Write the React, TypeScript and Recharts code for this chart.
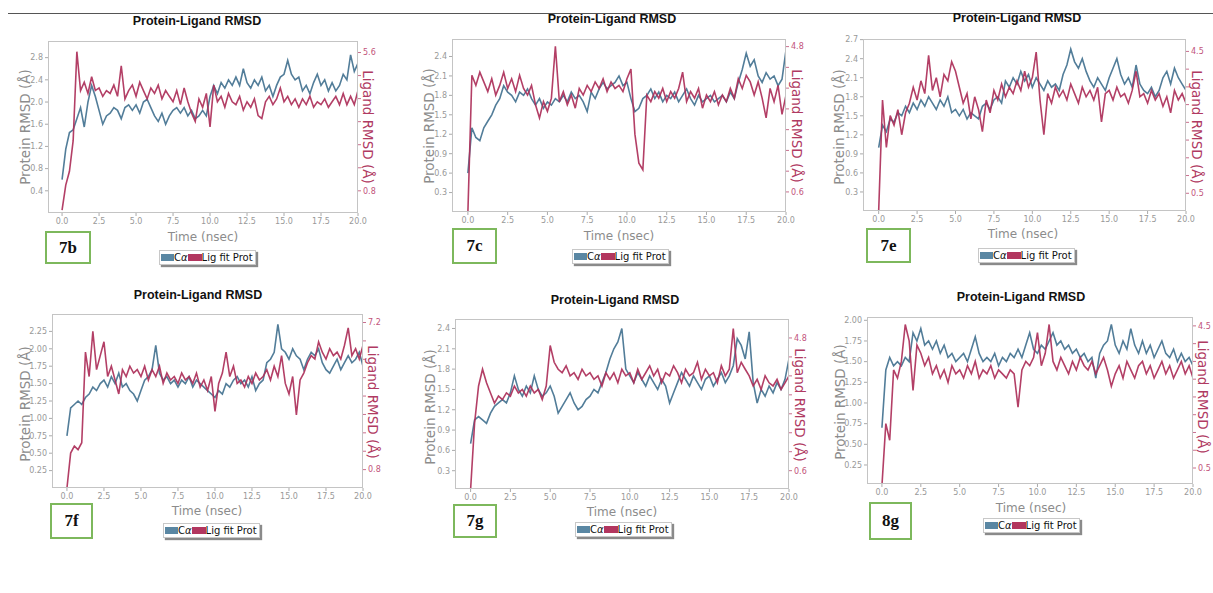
import React from 'react';
import { LineChart, Line, XAxis, YAxis } from 'recharts';

// sampling grid: one value every 0.25 ns
const TIME = Array.from({ length: 81 }, (_, i) => i * 0.25);
const X_TICKS = [0, 2.5, 5, 7.5, 10, 12.5, 15, 17.5, 20];

// Cα RMSD (left axis, Å) and ligand RMSD (right axis, Å) per complex
const CA_7B = [
  0.6, 1.15, 1.45, 1.5, 1.7, 1.9, 1.55, 2.0, 2.3, 2.1,
  1.85, 1.6, 1.75, 1.8, 1.9, 1.85, 1.7, 1.9, 1.95, 1.85,
  1.95, 1.8, 2.0, 2.05, 1.9, 1.75, 1.65, 1.8, 1.6, 1.75,
  1.85, 1.9, 1.8, 1.9, 1.75, 1.85, 1.7, 1.75, 1.85, 1.75,
  2.1, 2.3, 2.15, 2.35, 2.25, 2.4, 2.3, 2.45, 2.3, 2.6,
  2.35, 2.25, 2.4, 2.3, 2.45, 2.2, 2.3, 2.1, 2.3, 2.45,
  2.5, 2.75, 2.5, 2.4, 2.45, 2.2, 2.3, 2.15, 2.35, 2.5,
  2.3, 2.4, 2.2, 2.35, 2.2, 2.3, 2.5, 2.4, 2.85, 2.55,
  2.7,
];
const LIG_7B = [
  0.13, 1.0, 1.48, 2.54, 5.63, 4.28, 4.57, 4.18, 4.76, 4.28,
  4.37, 4.08, 4.28, 4.18, 4.47, 4.08, 5.14, 3.99, 4.28, 4.47,
  4.08, 4.57, 4.28, 3.99, 4.37, 4.18, 4.47, 3.99, 4.28, 4.08,
  3.89, 4.28, 3.79, 4.37, 3.89, 3.5, 3.21, 3.99, 3.7, 4.18,
  3.02, 4.47, 3.89, 4.08, 3.7, 4.18, 3.89, 3.79, 4.08, 3.6,
  3.89, 3.7, 3.99, 3.41, 3.31, 3.89, 4.08, 3.79, 3.99, 4.37,
  3.89, 4.08, 3.79, 3.99, 3.7, 3.99, 3.79, 4.08, 3.7, 3.89,
  3.79, 3.99, 3.7, 3.89, 4.08, 3.79, 4.18, 3.79, 4.08, 3.79,
  4.28,
];

const CA_7C = [
  0.6, 1.3, 1.15, 1.1, 1.3, 1.4, 1.5, 1.65, 1.75, 1.95,
  1.85, 1.8, 1.7, 1.85, 1.8, 1.9, 1.75, 1.65, 1.75, 1.6,
  1.7, 1.65, 1.75, 1.7, 1.8, 1.7, 1.85, 1.75, 1.8, 1.7,
  1.55, 1.85, 1.75, 1.9, 2.0, 1.9, 1.95, 2.0, 2.1, 1.95,
  2.0, 1.75, 1.55, 1.6, 1.75, 1.8, 1.9, 1.75, 1.85, 1.7,
  1.8, 1.75, 1.85, 1.7, 1.8, 1.9, 1.75, 1.65, 1.8, 1.7,
  1.75, 1.8, 1.7, 1.75, 1.8, 1.7, 1.85, 1.75, 2.0, 2.2,
  2.45, 2.25, 2.35, 2.1, 2.0, 2.15, 2.05, 2.1, 1.95, 2.05,
  2.5,
];
const LIG_7C = [
  0.02, 3.97, 3.68, 4.06, 3.78, 3.5, 3.87, 3.4, 3.68, 4.06,
  3.59, 3.87, 3.5, 3.97, 3.59, 3.4, 3.68, 3.12, 2.74, 3.21,
  2.93, 3.31, 4.81, 3.21, 3.5, 3.12, 3.4, 3.02, 3.59, 3.4,
  3.68, 3.5, 3.78, 3.59, 3.87, 3.5, 3.78, 3.59, 3.68, 3.5,
  3.87, 4.15, 2.27, 1.43, 1.24, 3.4, 3.21, 3.5, 3.31, 3.59,
  3.21, 3.5, 3.31, 3.59, 4.06, 3.21, 3.5, 3.31, 3.59, 3.02,
  3.4, 3.21, 3.5, 3.12, 3.4, 3.21, 3.59, 3.31, 3.87, 3.59,
  3.97, 3.78, 3.4, 3.78, 3.31, 2.74, 3.59, 3.21, 3.68, 2.84,
  3.4,
];

const CA_7E = [
  1.0, 1.35, 1.25, 1.45, 1.4, 1.55, 1.5, 1.65, 1.55, 1.7,
  1.6, 1.75, 1.65, 1.8, 1.7, 1.6, 1.75, 1.65, 1.8, 1.55,
  1.6, 1.5, 1.6, 1.45, 1.55, 1.5, 1.45, 1.65, 1.7, 1.6,
  1.75, 1.8, 1.7, 2.05, 1.95, 2.1, 2.0, 2.2, 2.05, 2.15,
  1.95, 2.1, 2.0, 1.9, 2.05, 1.95, 2.0, 1.9, 2.15, 2.3,
  2.55, 2.35, 2.25, 2.4, 2.2, 2.05, 1.95, 2.1, 2.0, 1.9,
  2.1, 2.25, 2.4, 2.15, 2.0, 2.1, 1.95, 2.3, 2.0, 1.9,
  1.85, 1.95, 1.8, 1.9, 2.1, 2.2, 2.0, 2.25, 2.1, 2.0,
  1.9,
];
const LIG_7E = [
  0.0, 3.13, 1.79, 2.69, 2.42, 2.86, 2.15, 2.77, 3.04, 3.49,
  3.13, 3.67, 3.31, 4.39, 3.4, 3.76, 3.22, 3.85, 3.67, 4.21,
  3.94, 3.49, 3.04, 3.31, 2.6, 3.22, 2.86, 2.24, 3.13, 2.77,
  3.4, 3.13, 3.58, 3.22, 3.49, 3.31, 3.67, 3.4, 3.94, 3.49,
  3.76, 4.48, 3.13, 2.15, 3.31, 3.04, 3.49, 3.22, 3.4, 3.13,
  3.58, 3.31, 3.04, 3.49, 3.22, 3.4, 3.13, 3.49, 2.51, 3.31,
  3.4, 3.13, 3.49, 3.22, 3.31, 3.04, 3.4, 3.94, 3.22, 3.31,
  3.04, 3.4, 3.13, 3.31, 2.95, 3.22, 2.77, 3.4, 3.13, 3.31,
  3.04,
];

const CA_7F = [
  0.75, 1.15, 1.2, 1.25, 1.2, 1.3, 1.35, 1.45, 1.4, 1.5,
  1.55, 1.45, 1.6, 1.5, 1.65, 1.45, 1.5, 1.4, 1.35, 1.25,
  1.4, 1.55, 1.6, 1.7, 2.05, 1.65, 1.55, 1.6, 1.5, 1.55,
  1.45, 1.55, 1.5, 1.6, 1.45, 1.55, 1.5, 1.45, 1.4, 1.35,
  1.3, 1.4, 1.35, 1.5, 1.45, 1.55, 1.6, 1.5, 1.55, 1.45,
  1.6, 1.4, 1.5, 1.55, 1.8, 1.85, 1.95, 2.35, 2.0, 1.95,
  1.85, 2.0, 1.9, 1.85, 1.7, 1.85, 1.95, 1.9, 2.0, 1.8,
  1.7, 1.65, 1.75, 1.85, 1.7, 1.8, 1.9, 1.8, 1.85, 1.95,
  1.75,
];
const LIG_7F = [
  0.0, 1.52, 1.82, 1.67, 1.97, 5.91, 4.85, 6.82, 5.15, 5.76,
  6.36, 4.85, 5.3, 4.7, 4.09, 5.15, 4.85, 5.3, 5.0, 5.15,
  4.85, 5.3, 4.7, 5.15, 4.85, 5.3, 4.55, 5.0, 4.7, 4.85,
  4.55, 5.0, 4.7, 4.85, 4.55, 5.0, 4.39, 4.7, 4.24, 4.85,
  3.33, 4.55, 5.0, 5.91, 4.85, 5.3, 4.55, 4.7, 4.39, 4.85,
  4.55, 5.0, 4.7, 4.85, 5.15, 4.7, 5.3, 4.85, 5.76, 4.55,
  4.09, 4.85, 3.18, 4.7, 5.0, 5.45, 5.76, 5.61, 6.36, 5.91,
  5.61, 6.06, 5.76, 5.91, 5.61, 6.21, 6.97, 5.76, 6.06, 5.61,
  6.21,
];

const CA_7G = [
  0.7, 1.05, 1.1, 1.05, 1.0, 1.15, 1.25, 1.3, 1.35, 1.3,
  1.45, 1.7, 1.5, 1.4, 1.55, 1.45, 1.7, 1.5, 1.4, 1.45,
  1.55, 1.4, 1.15, 1.25, 1.35, 1.45, 1.3, 1.2, 1.25, 1.35,
  1.4, 1.5, 1.45, 1.6, 1.75, 1.95, 2.1, 2.2, 2.4, 1.8,
  1.7, 1.6, 1.75, 1.65, 1.55, 1.7, 1.6, 1.5, 1.65, 1.55,
  1.3, 1.45, 1.6, 1.75, 1.65, 1.55, 1.7, 1.6, 1.5, 1.65,
  1.7, 1.55, 1.65, 1.75, 1.6, 1.7, 1.85, 2.25, 2.15, 1.95,
  2.35, 1.6, 1.3, 1.5, 1.4, 1.55, 1.45, 1.6, 1.5, 1.65,
  1.95,
];
const LIG_7G = [
  0.0, 2.1, 3.28, 3.81, 3.38, 3.06, 2.74, 2.96, 2.85, 3.06,
  2.96, 3.28, 3.06, 3.17, 2.96, 3.28, 3.06, 3.17, 2.85, 3.28,
  4.56, 4.03, 3.81, 3.7, 3.92, 3.6, 3.7, 3.49, 3.81, 3.6,
  3.7, 3.49, 3.6, 3.28, 3.7, 3.49, 3.7, 3.38, 3.81, 3.6,
  3.7, 3.38, 3.81, 3.49, 3.7, 3.92, 3.6, 3.81, 3.38, 3.7,
  3.6, 3.92, 3.7, 3.38, 3.81, 3.6, 3.7, 4.03, 3.49, 3.81,
  3.6, 3.7, 3.38, 3.92, 3.6, 3.81, 5.1, 3.7, 4.03, 3.81,
  3.6, 3.28, 3.49, 3.17, 3.6, 3.38, 3.28, 3.49, 3.17, 3.38,
  3.6,
];

const CA_8G = [
  0.7, 1.4, 1.55, 1.45, 1.5, 1.45, 1.55, 1.5, 1.85, 1.75,
  1.9, 1.7, 1.75, 1.65, 1.75, 1.6, 1.7, 1.55, 1.6, 1.5,
  1.55, 1.6, 1.5, 1.65, 1.8, 1.6, 1.5, 1.55, 1.5, 1.6,
  1.45, 1.55, 1.5, 1.6, 1.55, 1.65, 1.55, 1.7, 1.85, 1.65,
  1.6, 1.7, 1.65, 1.75, 1.85, 1.7, 1.75, 1.65, 1.7, 1.6,
  1.65, 1.55, 1.6, 1.5, 1.55, 1.3, 1.6, 1.7, 1.75, 1.95,
  1.7, 1.6, 1.75, 1.65, 1.9, 1.7, 1.6, 1.75, 1.6, 1.7,
  1.55, 1.65, 1.75, 1.6, 1.55, 1.65, 1.5, 1.6, 1.5, 1.55,
  1.45,
];
const LIG_8G = [
  0.0, 1.75, 1.28, 3.26, 3.03, 3.5, 4.54, 4.08, 2.68, 3.96,
  3.73, 3.38, 3.61, 3.15, 3.38, 3.03, 3.26, 2.91, 3.38, 3.15,
  3.26, 3.03, 3.38, 3.15, 3.5, 3.03, 3.26, 3.15, 3.38, 3.03,
  3.26, 3.15, 3.03, 3.26, 3.15, 2.21, 3.26, 3.5, 3.38, 3.61,
  4.31, 3.38, 3.73, 4.54, 3.5, 3.26, 3.61, 3.38, 3.15, 3.5,
  3.26, 3.61, 3.38, 3.26, 3.5, 3.15, 3.38, 3.61, 3.26, 2.8,
  3.15, 3.38, 3.03, 3.5, 3.26, 3.03, 3.38, 3.5, 3.15, 3.38,
  3.03, 3.26, 3.5, 3.15, 3.38, 3.03, 3.26, 3.5, 3.15, 3.38,
  3.03,
];

// axis ticks
const L_TICKS_7B = [0.4, 0.8, 1.2, 1.6, 2.0, 2.4, 2.8];
const R_TICKS_7B = [0.8, 1.6, 2.4, 3.2, 4.0, 4.8, 5.6];
const L_TICKS_7C = [0.3, 0.6, 0.9, 1.2, 1.5, 1.8, 2.1, 2.4];
const R_TICKS_7C = [0.6, 1.2, 1.8, 2.4, 3.0, 3.6, 4.2, 4.8];
const L_TICKS_7E = [0.3, 0.6, 0.9, 1.2, 1.5, 1.8, 2.1, 2.4, 2.7];
const R_TICKS_7E = [0.5, 1.0, 1.5, 2.0, 2.5, 3.0, 3.5, 4.0, 4.5];
const L_TICKS_7F = [0.25, 0.5, 0.75, 1.0, 1.25, 1.5, 1.75, 2.0, 2.25];
const R_TICKS_7F = [0.8, 1.6, 2.4, 3.2, 4.0, 4.8, 5.6, 6.4, 7.2];
const L_TICKS_7G = [0.3, 0.6, 0.9, 1.2, 1.5, 1.8, 2.1, 2.4];
const R_TICKS_7G = [0.6, 1.2, 1.8, 2.4, 3.0, 3.6, 4.2, 4.8];
const L_TICKS_8G = [0.25, 0.5, 0.75, 1.0, 1.25, 1.5, 1.75, 2.0];
const R_TICKS_8G = [0.5, 1.0, 1.5, 2.0, 2.5, 3.0, 3.5, 4.0, 4.5];

const BLUE = '#527d99';
const RED = '#ad2f59';
const GRAY = '#8c8c8c';

const LW = 40; // left axis width
const RW = 30; // right axis width
const XH = 22; // x axis height
const MT = 4;

// layout: plot box [x, y, w, h] in page px plus label anchors
const PANELS = [
  {
    tag: '7b', ca: CA_7B, lig: LIG_7B, lTicks: L_TICKS_7B, rTicks: R_TICKS_7B, dec: 1,
    box: [48, 41, 310, 172], xMin: -0.95, lDom: [0, 3.1], rDom: [0.03, 6.0],
    title: [197, 21], xLab: [203, 237], yLab: [25, 127], rLab: [368, 127],
    legend: [159, 250], tagBox: [45, 231, 46, 33],
  },
  {
    tag: '7c', ca: CA_7C, lig: LIG_7C, lTicks: L_TICKS_7C, rTicks: R_TICKS_7C, dec: 1,
    box: [452, 39, 334, 173], xMin: -1.0, lDom: [0, 2.67], rDom: [0.02, 5.02],
    title: [612, 19], xLab: [619, 236], yLab: [429, 126], rLab: [797, 126],
    legend: [572, 249], tagBox: [452, 228, 45, 36],
  },
  {
    tag: '7e', ca: CA_7E, lig: LIG_7E, lTicks: L_TICKS_7E, rTicks: R_TICKS_7E, dec: 1,
    box: [863, 39, 323, 172], xMin: -1.02, lDom: [0, 2.71], rDom: [0, 4.85],
    title: [1017, 18], xLab: [1023, 234], yLab: [839, 127], rLab: [1197, 127],
    legend: [978, 248], tagBox: [866, 228, 45, 35],
  },
  {
    tag: '7f', ca: CA_7F, lig: LIG_7F, lTicks: L_TICKS_7F, rTicks: R_TICKS_7F, dec: 2,
    box: [52, 314, 311, 174], xMin: -1.01, lDom: [0, 2.5], rDom: [0, 7.57],
    title: [198, 295], xLab: [207, 511], yLab: [25, 404], rLab: [373, 402],
    legend: [163, 523], tagBox: [50, 503, 43, 36],
  },
  {
    tag: '7g', ca: CA_7G, lig: LIG_7G, lTicks: L_TICKS_7G, rTicks: R_TICKS_7G, dec: 1,
    box: [455, 319, 334, 170], xMin: -0.98, lDom: [0.03, 2.54], rDom: [0.02, 5.4],
    title: [615, 300], xLab: [622, 512], yLab: [430, 407], rLab: [800, 405],
    legend: [575, 522], tagBox: [453, 504, 44, 34],
  },
  {
    tag: '8g', ca: CA_8G, lig: LIG_8G, lTicks: L_TICKS_8G, rTicks: R_TICKS_8G, dec: 2,
    box: [867, 317, 326, 167], xMin: -0.96, lDom: [0.02, 2.04], rDom: [0.05, 4.75],
    title: [1021, 297], xLab: [1031, 508], yLab: [840, 402], rLab: [1203, 397],
    legend: [983, 518], tagBox: [869, 502, 43, 38],
  },
];

const tickFont = { fontSize: 8, fontFamily: 'DejaVu Sans' };

const Centered = ({ x, y, rot = 0, style, children }: any) => (
  <div
    style={{
      position: 'absolute', left: x, top: y, whiteSpace: 'nowrap',
      transform: `translate(-50%, -50%) rotate(${rot}deg)`, ...style,
    }}
  >
    {children}
  </div>
);

const Panel = ({ p }: any) => {
  const [bx, by, bw, bh] = p.box;
  const rows = TIME.map((t, i) => ({ t, ca: p.ca[i], lig: p.lig[i] }));
  const rFirst = p.rTicks[0];
  const rLast = p.rTicks[p.rTicks.length - 1];
  const [lx, ly] = p.legend;
  const [gx, gy, gw, gh] = p.tagBox;
  return (
    <>
      <Centered x={p.title[0]} y={p.title[1]} style={{ font: 'bold 12.5px "Liberation Sans", Arial, sans-serif', color: '#111' }}>
        Protein-Ligand RMSD
      </Centered>
      <div style={{ position: 'absolute', left: bx - LW, top: by - MT }}>
        <LineChart width={bw + LW + RW} height={bh + MT + XH} data={rows} margin={{ top: MT, right: 0, bottom: 0, left: 0 }}>
          <XAxis
            dataKey="t" type="number" domain={[p.xMin, 20]} ticks={X_TICKS} allowDataOverflow
            tickFormatter={(v: number) => v.toFixed(1)} axisLine={false} tickSize={3}
            tickLine={{ stroke: '#aaa' }} tick={{ ...tickFont, fill: '#999' }} height={XH}
          />
          <YAxis
            yAxisId="l" domain={p.lDom} ticks={p.lTicks} allowDataOverflow width={LW}
            tickFormatter={(v: number) => v.toFixed(p.dec)} axisLine={false} tickSize={3}
            tickLine={{ stroke: '#aaa' }} tick={{ ...tickFont, fill: '#999' }}
          />
          <YAxis
            yAxisId="r" orientation="right" domain={p.rDom} ticks={p.rTicks} allowDataOverflow width={RW}
            tickFormatter={(v: number) => (v === rFirst || v === rLast ? v.toFixed(1) : '')}
            axisLine={false} tickSize={3} tickLine={{ stroke: '#c9708f' }} tick={{ ...tickFont, fill: '#c2537a' }}
          />
          <Line yAxisId="l" dataKey="ca" stroke={BLUE} strokeWidth={1.6} dot={false} isAnimationActive={false} />
          <Line yAxisId="r" dataKey="lig" stroke={RED} strokeWidth={1.6} strokeOpacity={0.92} dot={false} isAnimationActive={false} />
        </LineChart>
      </div>
      <div style={{ position: 'absolute', left: bx, top: by, width: bw, height: bh, border: '1.5px solid #c4c4c4', boxSizing: 'border-box', pointerEvents: 'none' }} />
      <Centered x={p.xLab[0]} y={p.xLab[1]} style={{ font: '12px "DejaVu Sans", sans-serif', color: GRAY }}>
        Time (nsec)
      </Centered>
      <Centered x={p.yLab[0]} y={p.yLab[1]} rot={-90} style={{ font: '13.5px "DejaVu Sans", sans-serif', color: GRAY }}>
        Protein RMSD (Å)
      </Centered>
      <Centered x={p.rLab[0]} y={p.rLab[1]} rot={90} style={{ font: '13.5px "DejaVu Sans", sans-serif', color: '#b03a62' }}>
        Ligand RMSD (Å)
      </Centered>
      <div
        style={{
          position: 'absolute', left: lx, top: ly, height: 13, display: 'flex', alignItems: 'center',
          background: '#fff', border: '1px solid #c8c8c8', boxShadow: '2px 2px 1px #8a8a8a',
          font: '10px "DejaVu Sans", sans-serif', color: '#111', paddingRight: 2,
        }}
      >
        <span style={{ display: 'inline-block', width: 13, height: 7, background: '#5a87a3', marginLeft: 1 }} />
        <span>C<i>α</i></span>
        <span style={{ display: 'inline-block', width: 14, height: 7, background: '#b2365f' }} />
        <span>Lig fit Prot</span>
      </div>
      <div
        style={{
          position: 'absolute', left: gx, top: gy, width: gw, height: gh, boxSizing: 'border-box',
          border: '2px solid #7db85c', display: 'flex', alignItems: 'center', justifyContent: 'center',
          font: 'bold 17px "Liberation Serif", "Times New Roman", serif', color: '#111',
        }}
      >
        {p.tag}
      </div>
    </>
  );
};

export default function App() {
  return (
    <div style={{ position: 'absolute', left: 0, top: 0, width: 1213, height: 593, background: '#fff', overflow: 'hidden' }}>
      <div style={{ position: 'absolute', left: 8, top: 13, width: 1205, height: 1, background: '#555' }} />
      {PANELS.map((p) => (
        <Panel key={p.tag} p={p} />
      ))}
    </div>
  );
}
